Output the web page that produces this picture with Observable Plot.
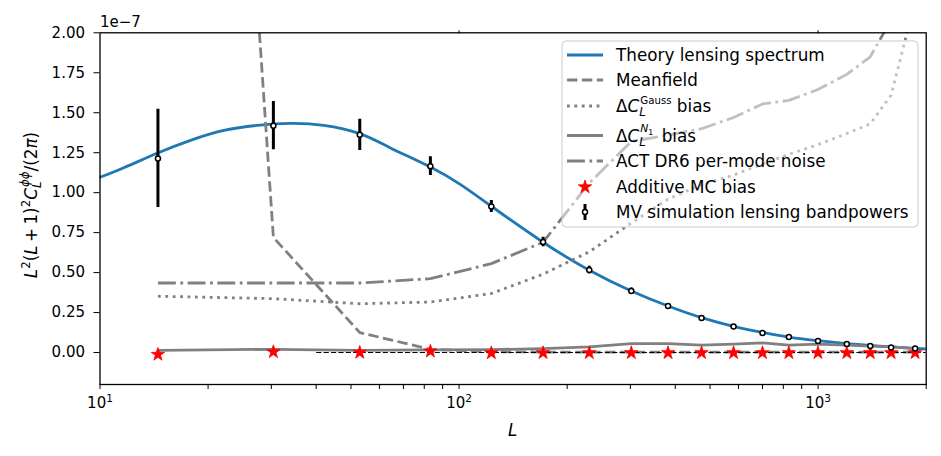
<!DOCTYPE html>
<html><head><meta charset="utf-8">
<script src="https://cdn.jsdelivr.net/npm/d3@7"></script>
<script src="https://cdn.jsdelivr.net/npm/@observablehq/plot@0.6"></script>
<style>html,body{margin:0;padding:0;background:#fff;} svg{display:block;}</style>
</head><body><div id="chart"></div>
<script>
// ---- data (values in units of 1e-7) ----
const binL = [14.5, 30.4, 52.9, 83.2, 123, 171.4, 230.5, 301.8, 382, 473.6, 581.5, 700, 829, 999, 1202, 1397, 1597, 1863];
const bandpower = [1.214, 1.419, 1.362, 1.166, 0.914, 0.691, 0.516, 0.385, 0.291, 0.216, 0.1625, 0.1225, 0.0975, 0.0715, 0.053, 0.041, 0.032, 0.025];
const bandpowerErr = [0.307, 0.151, 0.098, 0.058, 0.0375, 0.03, 0.024, 0.019, 0.014, 0.011, 0.009, 0.008, 0.007, 0.006, 0.005, 0.005, 0.004, 0.004];
const mcBias = [-0.0125, 0.004, 0.0, 0.008, -0.003, -0.002, -0.002, -0.002, -0.002, -0.002, -0.002, -0.002, -0.002, -0.002, -0.002, -0.002, -0.002, -0.002];
const meanfield = [11.3, 0.72, 0.125, 0.02, 0.005, 0.003, 0.002, 0.002, 0.002, 0.002, 0.002, 0.002, 0.002, 0.002, 0.002, 0.002, 0.002, 0.002];
const gaussBias = [0.352, 0.337, 0.305, 0.316, 0.369, 0.49, 0.63, 0.81, 0.96, 1.05, 1.11, 1.18, 1.24, 1.30, 1.37, 1.43, 1.61, 2.2];
const n1Bias = [0.014, 0.02, 0.014, 0.016, 0.018, 0.025, 0.035, 0.056, 0.056, 0.046, 0.052, 0.06, 0.046, 0.052, 0.046, 0.04, 0.035, 0.025];
const noisePerMode = [0.435, 0.435, 0.435, 0.462, 0.556, 0.69, 1.06, 1.32, 1.36, 1.40, 1.47, 1.555, 1.577, 1.645, 1.74, 1.85, 2.08, 2.6];
const theoryL = [10, 11.65, 14.48, 17.87, 22.12, 27.39, 33.9, 41.98, 52.9, 64.4, 83.2, 101, 123, 171.4, 230.5, 301.8, 382, 473.6, 581.5, 700, 829, 999, 1202, 1397, 1597, 1863, 2000];
const theoryVal = [1.096, 1.156, 1.248, 1.327, 1.389, 1.421, 1.433, 1.421, 1.369, 1.28, 1.16, 1.05, 0.915, 0.69, 0.515, 0.385, 0.291, 0.218, 0.164, 0.126, 0.097, 0.074, 0.056, 0.044, 0.035, 0.026, 0.022];
const zeroLineL = [40, 2000];
const yTicks = [0, 0.25, 0.5, 0.75, 1.0, 1.25, 1.5, 1.75, 2.0];
const xMajor = [10, 100, 1000];
const xMajorBase = "10";
const xMajorExp = ["1", "2", "3"];
const xMinor = [20, 30, 40, 50, 60, 70, 80, 90, 200, 300, 400, 500, 600, 700, 800, 900, 2000];
const xTop = [100, 1000];
const legendLabels = ["Theory lensing spectrum", "Meanfield", "Gauss", "N1", "ACT DR6 per-mode noise", "Additive MC bias", "MV simulation lensing bandpowers"];

// ---- tables ----
const bins = binL.map((L, i) => ({L, bp: bandpower[i], err: bandpowerErr[i], mc: mcBias[i], mf: meanfield[i], gauss: gaussBias[i], n1: n1Bias[i], noise: noisePerMode[i]}));
const theory = theoryL.map((L, i) => ({L, v: theoryVal[i]}));
const zero = zeroLineL.map(L => ({L, v: 0}));

const GRAY = "#808080", BLUE = "#1f77b4", LW = 2.8;
const DASH = "10.4,4.5", DOT = "2.8,4.6", DASHDOT = "17.9,4.5,2.8,4.5";
const STAR_R = 4.2;
const TFS = 15;
const FONT = "DejaVu Sans";

const svgEl = Plot.plot({
  width: 941, height: 456,
  marginLeft: 99.5, marginRight: 15.3, marginTop: 32.3, marginBottom: 72,
  style: {fontFamily: FONT, fontSize: "15px", color: "black", background: "white", overflow: "visible"},
  x: {type: "log", domain: [10, 2000]},
  y: {domain: [-0.2, 2.0]},
  marks: [
    Plot.line(theory, {x: "L", y: "v", stroke: BLUE, strokeWidth: LW, curve: "natural", clip: true}),
    Plot.line(bins, {x: "L", y: "mf", stroke: GRAY, strokeWidth: LW, strokeDasharray: DASH, strokeLinecap: "butt", strokeLinejoin: "miter", clip: true}),
    Plot.line(bins, {x: "L", y: "gauss", stroke: GRAY, strokeWidth: LW, strokeDasharray: DOT, strokeLinecap: "butt", clip: true}),
    Plot.line(bins, {x: "L", y: "n1", stroke: GRAY, strokeWidth: LW, clip: true}),
    Plot.line(bins, {x: "L", y: "noise", stroke: GRAY, strokeWidth: LW, strokeDasharray: DASHDOT, strokeLinecap: "butt", clip: true}),
    Plot.line(zero, {x: "L", y: "v", stroke: "black", strokeWidth: 1.1, strokeDasharray: "5.2,2.2", strokeLinecap: "butt", clip: true}),
    Plot.dot(bins, {x: "L", y: "mc", symbol: "star", r: STAR_R, fill: "red", stroke: "red", strokeWidth: 0.8, clip: true}),
    Plot.ruleX(bins, {x: "L", y1: d => d.bp - d.err, y2: d => d.bp + d.err, stroke: "black", strokeWidth: 3, clip: true}),
    Plot.dot(bins, {x: "L", y: "bp", r: 2.5, fill: "white", stroke: "black", strokeWidth: 1.5, clip: true}),
    Plot.frame({stroke: "black", strokeWidth: 1.3}),
    Plot.axisY({ticks: yTicks, tickFormat: d3.format(".2f"), tickSize: 6, tickPadding: 9, fontSize: TFS, fontFamily: FONT, label: null}),
    Plot.axisX({ticks: xMajor, tickFormat: d => "10^" + xMajorExp[xMajor.indexOf(d)], tickSize: 5, tickPadding: 8, fontSize: TFS, fontFamily: FONT, label: null}),
    Plot.axisX({ticks: xMinor, tickFormat: () => "", tickSize: 5, label: null}),
    Plot.axisX({anchor: "top", ticks: xTop, tickFormat: () => "", tickSize: 3, label: null})
  ]
});
document.getElementById("chart").appendChild(svgEl);

const svg = d3.select(svgEl);
const FS = 16.8;

const addT = (t, s, o = {}) => {
  const sp = t.append("tspan").text(s);
  for (const k in o) sp.attr(k, o[k]);
  return sp;
};

// rewrite the x major tick labels as 10 + superscript exponent
svg.selectAll("text").each(function () {
  const s = this.textContent;
  const m = /^10\^(\d)$/.exec(s);
  if (!m) return;
  const t = d3.select(this);
  t.selectAll("*").remove();
  t.text(null);
  addT(t, xMajorBase);
  addT(t, m[1], {"font-size": 10.5, dy: -6});
});

// offset text
svg.append("text").attr("x", 100).attr("y", 27).attr("text-anchor", "start").attr("font-size", TFS)
  .attr("font-family", FONT).attr("fill", "black").text("1e\u22127");

// x label
svg.append("text").attr("x", 512.6).attr("y", 436).attr("text-anchor", "middle").attr("font-size", FS)
  .attr("font-style", "italic").attr("font-family", FONT).attr("fill", "black").text("L");

// y label
const yl = svg.append("text").attr("transform", "translate(36.7,205) rotate(-90)").attr("text-anchor", "middle")
  .attr("font-size", FS).attr("font-family", FONT).attr("fill", "black");
addT(yl, "L", {"font-style": "italic"});
addT(yl, "2", {"font-size": 11.8, dy: -7});
addT(yl, "(", {dy: 7});
addT(yl, "L", {"font-style": "italic"});
addT(yl, "\u2009+\u20091)");
addT(yl, "2", {"font-size": 11.8, dy: -7});
addT(yl, "C", {"font-style": "italic", dy: 7});
addT(yl, "L", {"font-style": "italic", "font-size": 11.8, dy: 4});
addT(yl, "\u03d5\u03d5", {"font-style": "italic", "font-size": 11.8, dx: -5.5, dy: -12});
addT(yl, "/(2", {dy: 8});
addT(yl, "\u03c0", {"font-style": "italic"});
addT(yl, ")");

// legend
const lg = svg.append("g").attr("font-family", FONT).attr("font-size", FS).attr("text-anchor", "start");
lg.append("rect").attr("x", 562).attr("y", 41).attr("width", 356).attr("height", 186).attr("rx", 4)
  .attr("fill", "white").attr("fill-opacity", 0.5).attr("stroke", "#cccccc").attr("stroke-width", 1);
const rows = [55, 80, 106, 135.5, 161, 187, 212];
const hx1 = 567, hx2 = 603, tx = 616;
const hline = (y, dash, color) => {
  const l = lg.append("line").attr("x1", hx1).attr("x2", hx2).attr("y1", y).attr("y2", y)
    .attr("stroke", color).attr("stroke-width", LW).attr("stroke-linecap", "butt");
  if (dash) l.attr("stroke-dasharray", dash);
};
hline(rows[0], null, BLUE);
hline(rows[1], DASH, GRAY);
hline(rows[2], DOT, GRAY);
hline(rows[3], null, GRAY);
hline(rows[4], DASHDOT, GRAY);
lg.append("path").attr("d", d3.symbol(d3.symbolStar, Math.PI * STAR_R * STAR_R)())
  .attr("transform", `translate(${(hx1 + hx2) / 2},${rows[5]})`).attr("fill", "red").attr("stroke", "red").attr("stroke-width", 0.8);
lg.append("line").attr("x1", (hx1 + hx2) / 2).attr("x2", (hx1 + hx2) / 2).attr("y1", rows[6] - 8).attr("y2", rows[6] + 8)
  .attr("stroke", "black").attr("stroke-width", 3);
lg.append("circle").attr("cx", (hx1 + hx2) / 2).attr("cy", rows[6]).attr("r", 2.5).attr("fill", "white").attr("stroke", "black").attr("stroke-width", 1.5);

const txt = (i) => lg.append("text").attr("x", tx).attr("y", rows[i]).attr("dy", "0.36em").attr("fill", "black").attr("text-anchor", "start");
txt(0).text(legendLabels[0]);
txt(1).text(legendLabels[1]);
{
  const t = txt(2);
  addT(t, "\u0394");
  addT(t, "C", {"font-style": "italic"});
  addT(t, "L", {"font-style": "italic", "font-size": 11.8, dy: 4});
  addT(t, legendLabels[2], {"font-size": 10.2, dx: -5.5, dy: -12});
  addT(t, "\u00a0bias", {dy: 8});
}
{
  const t = txt(3);
  addT(t, "\u0394");
  addT(t, "C", {"font-style": "italic"});
  addT(t, "L", {"font-style": "italic", "font-size": 11.8, dy: 4});
  addT(t, "N", {"font-style": "italic", "font-size": 10.8, dx: -5.5, dy: -13.5});
  addT(t, "1", {"font-size": 7.8, dy: 3});
  addT(t, "\u00a0bias", {dx: 3, dy: 6.5});
}
txt(4).text(legendLabels[4]);
txt(5).text(legendLabels[5]);
txt(6).text(legendLabels[6]);
</script>
</body></html>
